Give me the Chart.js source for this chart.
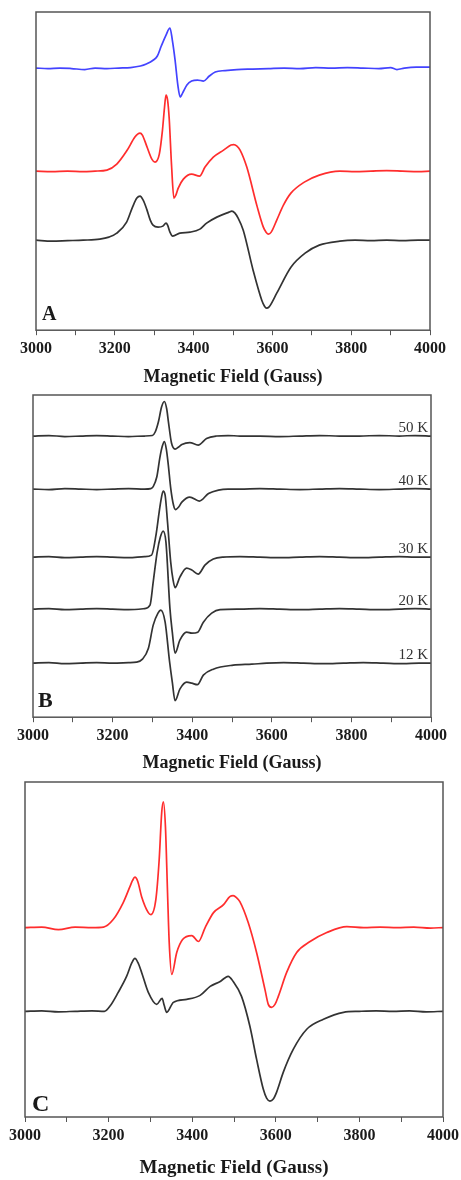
<!DOCTYPE html>
<html>
<head>
<meta charset="utf-8">
<script src="https://cdn.jsdelivr.net/npm/chart.js@4/dist/chart.umd.min.js"></script>
<style>
  html, body { margin: 0; padding: 0; background: #fff; }
  body { width: 461px; height: 1180px; position: relative; overflow: hidden; }
  .panel { position: absolute; left: 0; width: 500px; }
</style>
</head>
<body>
<div class="panel" style="top:2px;height:386px"><canvas id="chartA"></canvas></div>
<div class="panel" style="top:385px;height:389px"><canvas id="chartB"></canvas></div>
<div class="panel" style="top:772px;height:407px"><canvas id="chartC"></canvas></div>
<script>
/////////////////////
//    Data         //
/////////////////////
// x: magnetic field (G), y: signal (arb. units, traces offset)
const A_BLUE_FIELD = [3000,3030,3060,3090,3124,3150,3180,3210,3240,3265,3280,3298,3308,3318,3330,3340,3346,3353,3360,3366,3372,3383,3395,3410,3425,3440,3455,3480,3510,3550,3590,3630,3670,3710,3750,3790,3830,3870,3900,3916,3935,3965,4000];
const A_BLUE_SIGNAL = [262,261.5,262,261.5,260.5,262,261.5,262,262.5,264,266,270,274,284,295,302,290,270,245,233,237,245,249,250,249,254,258,259.5,260.5,261,261.5,262,261.5,262.5,262,262.5,262,261.5,262.5,260.5,262,263,263];

const A_RED_FIELD = [3000,3040,3080,3120,3150,3180,3205,3230,3251,3258,3264,3270,3281,3294,3302,3313,3321,3326,3330,3334,3338,3344,3350,3355,3361,3374,3395,3415,3429,3450,3476,3495,3502,3510,3518,3535,3561,3577,3584,3590,3597,3611,3628,3647,3681,3719,3771,3810,3850,3890,3930,3970,4000];
const A_RED_SIGNAL = [159,158.5,159,158.5,159,160,166,179,193,196,197,195,184,171,168,176,200,222,235,230,212,165,132,135,142,151,156,154,163,173,180,185,185.5,184,180,163,124,103,98,96,98,110,125,137,148,155,159,158.5,159,159.5,159,158.5,159];

const A_BLACK_FIELD = [3000,3040,3080,3120,3162,3185,3205,3230,3245,3256,3264,3272,3281,3290,3297,3310,3322,3330,3334,3340,3347,3365,3391,3416,3433,3459,3490,3497,3505,3513,3526,3551,3573,3580,3585,3591,3611,3647,3683,3719,3771,3810,3850,3890,3930,3970,4000];
const A_BLACK_SIGNAL = [90,89,89.5,90,91,93,97,108,123,132,134,130,121,110,105,103,104,107,105,98,94,97,98,101,107,113,118,119,117,112,100,60,30,24,22,23,37,63,77,85,89,90,89.5,90,89.5,90,90];

const B_50K_FIELD = [3000,3040,3080,3120,3160,3200,3240,3280,3300,3307,3315,3323,3330,3336,3340,3348,3357,3366,3374,3394,3415,3436,3461,3490,3520,3570,3620,3670,3720,3770,3820,3870,3920,3960,4000];
const B_50K_SIGNAL = [281,281.5,280.5,281,281.5,281,280.5,281,281.5,285,295,310,315.5,308,296,274,268,270,272.5,274.5,272,278.5,281,281.5,281,281,280.5,281,281.5,281,281,281.5,281,281.5,281];

const B_40K_FIELD = [3000,3040,3080,3120,3160,3200,3240,3280,3296,3302,3311,3319,3325,3330,3335,3340,3346,3353,3358,3366,3374,3394,3418,3441,3466,3490,3520,3570,3620,3670,3720,3770,3820,3870,3920,3960,4000];
const B_40K_SIGNAL = [228,227.5,228.5,228,227.5,228,228.5,228,228.5,230.5,240,260,271,275.5,268,252,229,212,207.5,210,215,220,216,223.5,227,228,228,228.5,228,227.5,228,228.5,228,227.5,228,228.5,228];

const B_30K_FIELD = [3000,3040,3080,3120,3160,3200,3240,3280,3298,3309,3317,3322,3327,3332,3338,3346,3352,3357,3369,3386,3399,3415,3432,3453,3478,3520,3570,3620,3670,3720,3770,3820,3870,3920,3960,4000];
const B_30K_SIGNAL = [160,160.5,159.5,160,160.5,160,159.5,160.5,162,182,205,218,226,222,195,155,137,129.5,140,149,147,143,152,158,160,160.5,160,159.5,160,160.5,160,159.5,160,160.5,160,160];

const B_20K_FIELD = [3000,3040,3080,3120,3160,3200,3240,3280,3294,3302,3312,3320,3327,3334,3344,3350,3357,3369,3386,3399,3414,3428,3449,3470,3520,3570,3620,3670,3720,3770,3820,3870,3920,3960,4000];
const B_20K_SIGNAL = [108,108.5,107.5,108,108.5,108,107.5,108.5,112,135,165,180,186,175,109,85,64,77,85,84,85,95,104,107.5,108,108.5,108,107.5,108,108.5,108,107.5,108,108.5,108];

const B_12K_FIELD = [3000,3040,3080,3120,3160,3200,3240,3260,3275,3290,3302,3314,3321,3332,3343,3350,3357,3369,3386,3399,3413,3428,3453,3503,3550,3587,3630,3680,3730,3780,3830,3880,3930,3970,4000];
const B_12K_SIGNAL = [54,54.5,53.5,54,54.5,54,54.5,55,58,69,92,104,107,95,56,35,16.5,28,35,34,32.5,42,48,52,53,54,54.5,54,53.5,54,54.5,54,53.5,54,54];

const B_LABELS = ['50 K', '40 K', '30 K', '20 K', '12 K'];
const B_LABEL_LEVELS = [281, 228, 160, 108, 54];

const C_RED_FIELD = [3000,3040,3080,3120,3160,3188,3211,3235,3251,3257,3263,3270,3279,3295,3301,3313,3321,3327,3331,3336,3341,3345,3351,3363,3377,3399,3415,3431,3451,3475,3490,3498,3506,3514,3534,3554,3574,3582,3590,3598,3606,3626,3650,3682,3722,3770,3810,3850,3890,3930,3970,4000];
const C_RED_SIGNAL = [190,190.5,188,190.5,190,190.5,198,215,231,237,240.5,236,221,205,203,218,258,305,316,291,225,175,143,165,178,182,176,190,205,213,221,222,220,216,195,165,128,113,110,113,121,145,165,176,185,191,190,190.5,190,190.5,189.5,190];

const C_BLACK_FIELD = [3000,3040,3080,3120,3160,3190,3203,3223,3243,3256,3263,3270,3279,3295,3315,3328,3333,3339,3355,3387,3419,3443,3467,3480,3486,3498,3518,3538,3554,3570,3578,3586,3594,3602,3618,3642,3674,3714,3762,3800,3840,3880,3920,3960,4000];
const C_BLACK_SIGNAL = [106,106.5,105.5,106,106.5,106,111,125,141,155,159,155,145,125,113,119,112,105,115,118,122,131,136,140,141,136,121,91,58,28,19,16,18,25,45,68,88,98,105,106,106.5,106,106.5,105.5,106];

const X_TICK_LABELS = ['3000', '3200', '3400', '3600', '3800', '4000'];
const X_TITLE = 'Magnetic Field (Gauss)';

////////////////////////////
//    Helpers             //
////////////////////////////
const SERIF = '"Liberation Serif", "Times New Roman", serif';

function toPoints(fields, signal) {
  return fields.map((f, i) => ({ x: f, y: signal[i] }));
}

function trace(fields, signal, color) {
  return {
    data: toPoints(fields, signal),
    borderColor: color,
    borderWidth: 1.7,
    pointRadius: 0,
    cubicInterpolationMode: 'monotone',
    fill: false
  };
}

// frame box, panel letter and temperature tags
const framePlugin = {
  id: 'frame',
  afterDraw(chart, args, opts) {
    const { ctx, chartArea: a } = chart;
    ctx.save();
    ctx.strokeStyle = '#555';
    ctx.lineWidth = 1.5;
    ctx.strokeRect(a.left, a.top, a.right - a.left, a.bottom - a.top);

    ctx.fillStyle = '#1a1a1a';
    ctx.font = `bold ${opts.letterSize}px ${SERIF}`;
    ctx.textAlign = 'left';
    ctx.textBaseline = 'alphabetic';
    ctx.fillText(opts.letter, a.left + opts.letterDx, a.bottom - opts.letterDy);

    if (opts.tags) {
      const y = chart.scales.y;
      ctx.font = `15px ${SERIF}`;
      ctx.fillStyle = '#333';
      ctx.textAlign = 'right';
      opts.tags.forEach((t, i) => {
        ctx.fillText(t, a.right - 3, y.getPixelForValue(opts.levels[i]) - 4);
      });
    }
    ctx.restore();
  }
};

function makeChart(id, datasets, p) {
  return new Chart(document.getElementById(id), {
    type: 'line',
    data: { datasets },
    plugins: [framePlugin],
    options: {
      responsive: true,
      maintainAspectRatio: false,
      animation: false,
      layout: { padding: { top: 10, left: p.left, right: 500 - p.right, bottom: 0 } },
      scales: {
        x: {
          type: 'linear',
          min: 3000,
          max: 4000,
          border: { display: false },
          grid: { drawOnChartArea: false, drawTicks: true, tickLength: 5, color: '#555' },
          ticks: {
            stepSize: 100,
            autoSkip: false,
            maxRotation: 0,
            padding: 4,
            color: '#1a1a1a',
            font: { family: SERIF, size: 16, weight: 'bold' },
            callback: (v) => X_TICK_LABELS.includes(String(v)) ? String(v) : ''
          },
          title: {
            display: true,
            text: X_TITLE,
            color: '#1a1a1a',
            padding: { top: p.titlePad, bottom: 0 },
            font: { family: SERIF, size: p.titleSize, weight: 'bold' }
          }
        },
        y: { display: false, min: 0, max: p.yMax }
      },
      plugins: {
        legend: { display: false },
        tooltip: { enabled: false },
        frame: {
          letter: p.letter,
          letterSize: p.letterSize,
          letterDx: p.letterDx,
          letterDy: p.letterDy,
          tags: p.tags,
          levels: p.levels
        }
      }
    }
  });
}

///////////////////////
//    Main Script    //
///////////////////////
makeChart('chartA', [
  trace(A_BLUE_FIELD, A_BLUE_SIGNAL, '#4343ff'),
  trace(A_RED_FIELD, A_RED_SIGNAL, '#ff2d2d'),
  trace(A_BLACK_FIELD, A_BLACK_SIGNAL, '#333333')
], { left: 36, right: 430, yMax: 318, titlePad: 4, titleSize: 18,
     letter: 'A', letterSize: 20, letterDx: 6, letterDy: 10 });

makeChart('chartB', [
  trace(B_50K_FIELD, B_50K_SIGNAL, '#333333'),
  trace(B_40K_FIELD, B_40K_SIGNAL, '#333333'),
  trace(B_30K_FIELD, B_30K_SIGNAL, '#333333'),
  trace(B_20K_FIELD, B_20K_SIGNAL, '#333333'),
  trace(B_12K_FIELD, B_12K_SIGNAL, '#333333')
], { left: 33, right: 431, yMax: 322, titlePad: 3, titleSize: 18,
     letter: 'B', letterSize: 22, letterDx: 5, letterDy: 10,
     tags: B_LABELS, levels: B_LABEL_LEVELS });

makeChart('chartC', [
  trace(C_RED_FIELD, C_RED_SIGNAL, '#ff2d2d'),
  trace(C_BLACK_FIELD, C_BLACK_SIGNAL, '#333333')
], { left: 25, right: 443, yMax: 336, titlePad: 7, titleSize: 19,
     letter: 'C', letterSize: 24, letterDx: 7, letterDy: 6 });
</script>
</body>
</html>
